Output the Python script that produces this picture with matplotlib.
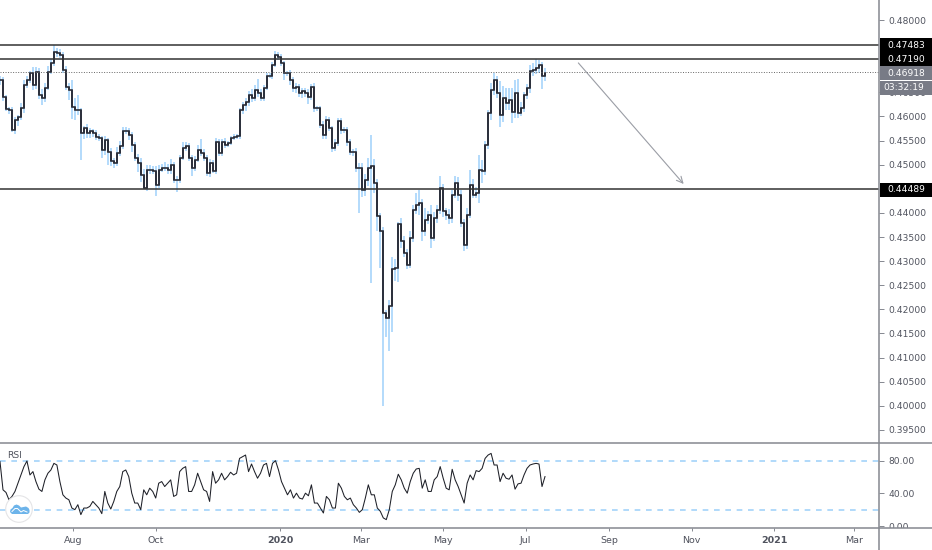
import datetime as dt
import numpy as np
import matplotlib
matplotlib.use("Agg")
import matplotlib.pyplot as plt
import matplotlib.dates as mdates
from matplotlib.patches import Circle, Polygon, Rectangle
from matplotlib.lines import Line2D
from matplotlib.transforms import Bbox

plt.rcParams['font.family'] = ['DejaVu Sans']

closes = [
 .4676,.4641,.4616,.4614,.4572,.4593,.4598,.4617,.4665,.4676,
 .4690,.4665,.4693,.4645,.4638,.4659,.4693,.4710,.4734,.4731,
 .4728,.4696,.4662,.4655,.4619,.4614,.4614,.4565,.4576,.4565,
 .4569,.4565,.4558,.4555,.4531,.4551,.4527,.4507,.4503,.4524,
 .4538,.4569,.4569,.4562,.4541,.4514,.4503,.4479,.4452,.4489,
 .4489,.4486,.4458,.4489,.4493,.4493,.4489,.4500,.4469,.4469,
 .4514,.4534,.4538,.4514,.4493,.4510,.4531,.4524,.4514,.4483,
 .4503,.4486,.4548,.4524,.4548,.4541,.4545,.4555,.4558,.4560,
 .4614,.4624,.4631,.4645,.4638,.4655,.4648,.4638,.4659,.4683,
 .4683,.4707,.4728,.4724,.4710,.4690,.4690,.4676,.4659,.4662,
 .4648,.4652,.4648,.4641,.4662,.4617,.4617,.4583,.4562,.4593,
 .4576,.4534,.4545,.4590,.4572,.4572,.4548,.4527,.4527,.4493,
 .4493,.4448,.4469,.4493,.4497,.4462,.4393,.4362,.4193,.4182,
 .4207,.4284,.4286,.4376,.4341,.4317,.4293,.4348,.4407,.4417,
 .4420,.4362,.4386,.4396,.4348,.4389,.4407,.4451,.4403,.4396,
 .4389,.4438,.4462,.4438,.4379,.4334,.4396,.4458,.4438,.4441,
 .4490,.4486,.4541,.4607,.4655,.4676,.4648,.4603,.4638,.4627,
 .4634,.4610,.4648,.4607,.4617,.4645,.4659,.4694,.4697,.4700,
 .4707,.4683,.4691]
# upper / lower wick lengths, in units of 0.0001
wick_up = [
 8,5,3,3,5,6,6,10,10,8,
 5,12,10,8,12,10,12,10,14,8,
 8,5,8,8,20,20,30,3,5,8,
 8,6,6,5,5,8,5,8,6,12,
 12,10,10,8,5,6,8,10,12,10,
 10,8,12,10,8,12,8,12,6,8,
 6,14,10,6,6,8,10,22,8,6,
 8,6,8,6,6,8,5,5,5,3,
 3,6,8,8,12,10,22,8,6,8,
 8,6,8,6,5,6,5,6,6,8,
 6,6,6,8,6,8,5,5,8,8,
 5,5,8,6,6,6,6,6,6,8,
 10,10,12,20,65,15,8,6,8,5,
 12,25,18,6,14,12,8,15,10,25,
 28,8,25,8,20,12,10,25,8,8,
 12,10,15,12,10,8,15,30,12,12,
 30,20,8,6,15,14,8,25,25,20,
 25,25,28,30,12,6,8,12,14,19,
 10,6,9]
wick_dn = [
 10,8,5,8,4,8,12,6,10,6,
 6,10,8,8,14,8,5,6,6,8,
 6,6,8,20,25,22,12,55,12,10,
 10,8,6,6,18,10,28,10,10,6,
 5,5,6,10,14,6,18,15,3,6,
 8,6,22,6,5,6,8,8,6,25,
 6,5,5,6,16,6,5,6,6,6,
 8,4,6,6,6,6,5,4,4,4,
 6,8,12,10,8,6,8,6,6,4,
 4,5,5,6,6,14,6,10,8,10,
 8,10,8,16,6,8,6,6,8,8,
 6,8,6,6,8,6,10,6,10,8,
 93,15,12,14,238,20,30,76,193,40,
 69,53,25,30,14,8,10,8,8,10,
 22,20,10,8,20,6,10,10,12,10,
 12,10,8,14,8,12,8,6,8,8,
 20,25,8,8,14,10,10,24,15,14,
 14,23,14,10,7,8,8,10,10,10,
 10,27,10]
rsi = [
 78.8,44.3,41.1,32.1,36.2,42.3,52.4,62.5,72.7,79.6,
 62.5,66.6,54.4,45.1,42.3,56.5,64.6,68.6,76.7,74.7,
 54.4,38.2,34.2,32.1,22,20,26.1,13.9,22,22,
 24,30.1,26.1,22,15.1,42.3,28.1,20.8,30.1,42.3,
 48.3,66.6,68.6,60.5,40.2,28.1,28.1,20,44.3,38.2,
 46.3,42.3,34.2,52.4,54.4,48.3,52.4,56.5,36.2,38.2,
 66.6,70.6,72.7,42.3,42.3,50.4,64.6,54.4,44.3,42.3,
 30.1,66.6,52.4,56.5,64.6,56.5,60.5,65.8,62.5,64.6,
 82.8,84.8,86.9,66.6,75.9,66.6,58.5,64.6,74.7,76.7,
 60.5,76.7,80,68.6,54.4,46.3,38.2,44.3,34.2,40.2,
 34.2,
 33,40.2,37,50.4,28.1,28.1,22,15.9,36.2,32.1,
 22,22,52.4,46.3,36.2,32.1,34.2,26.1,22,16.7,
 20,34.2,50.4,38.2,38.2,22,18,9.9,7.8,20,
 42.3,50.4,63.4,56.5,46.3,40.2,54.4,64.6,69.8,70.6,
 46.3,56.5,42.3,42.3,56.5,60.5,72.7,58.5,46.3,44.3,
 69.4,56.5,48.3,38.2,28.1,52.4,62.5,56.5,67.8,66.6,
 70.6,82.8,86.9,88.9,74.7,74.7,54.4,64.6,58.5,57.3,
 62.5,45.1,51.6,52.4,62.5,70.6,74.7,75.9,76.7,75.9,
 48.3,60.5]

levels = [0.47483, 0.47190, 0.44489]
last_price = 0.46918
countdown = "03:32:19"
price_ticks = [0.395,0.40,0.405,0.41,0.415,0.42,0.425,0.43,0.435,0.44,0.445,
               0.45,0.455,0.46,0.465,0.48]
rsi_ticks = [80, 40, 0]
rsi_bands = [80, 20]
date_ticks = [dt.date(2019,8,1),dt.date(2019,10,1),dt.date(2020,1,1),dt.date(2020,3,1),
              dt.date(2020,5,1),dt.date(2020,7,1),dt.date(2020,9,1),dt.date(2020,11,1),
              dt.date(2021,1,1),dt.date(2021,3,1)]
date_labels = ["Aug","Oct","2020","Mar","May","Jul","Sep","Nov","2021","Mar"]
arrow_start = (dt.date(2020,8,9), 0.4711)
arrow_end = (dt.date(2020,10,26), 0.4460)

W, H = 932, 550
AX_R, SEP, BOT = 879, 443, 528
TXT = '#50535e'; LINE = '#858890'; GREY = '#787b86'; BLUE = '#a3d3fa'; DARK = '#2a2d38'

fig = plt.figure(figsize=(W/100, H/100), dpi=100, facecolor='white')
ax = fig.add_axes([0, 1-SEP/H, AX_R/W, SEP/H])
ax2 = fig.add_axes([0, 1-BOT/H, AX_R/W, (BOT-SEP)/H], sharex=ax)

jan1 = mdates.date2num(dt.date(2020,1,1))
PX_DAY = 1.35
ax.set_xlim(jan1-280/PX_DAY, jan1+(AX_R-280)/PX_DAY)
x = jan1-280/PX_DAY + np.arange(len(closes))*3*(545/546)/PX_DAY

c = np.array(closes)
o = np.r_[c[0], c[:-1]]
hi = np.maximum(o, c) + np.array(wick_up)*1e-4
lo = np.minimum(o, c) - np.array(wick_dn)*1e-4

ax.set_ylim(0.48-(SEP-20)/4823, 0.48+20/4823)
ax.vlines(x, lo, hi, color=BLUE, lw=1.15, zorder=2)
ax.step(x, c, where='post', color=DARK, lw=1.2, zorder=3, solid_joinstyle='miter')
ax.vlines(x, o, c, color=DARK, lw=1.2, zorder=3)

for lv in levels:
    ax.axhline(lv, color='#333333', lw=1.1, zorder=4)
ax.axhline(last_price, color='#666666', lw=0.7, ls=(0,(1,1.6)), zorder=4)

a0 = (mdates.date2num(arrow_start[0]), arrow_start[1])
a1 = (mdates.date2num(arrow_end[0]), arrow_end[1])
ax.annotate("", xy=a1, xytext=a0, zorder=4,
            arrowprops=dict(arrowstyle='->,head_length=0.45,head_width=0.22', color='#9a9da5',
                            lw=0.8, shrinkA=0, shrinkB=0))

ax.set_yticks(price_ticks)
ax.set_yticklabels([f"{t:.5f}" for t in price_ticks])
ax.yaxis.tick_right()
ax.tick_params(axis='y', length=3.5, width=0.7, color=LINE, labelcolor=TXT, labelsize=6.6, pad=3)
ax.tick_params(axis='x', length=0, labelbottom=False)
for s in ax.spines.values():
    s.set_visible(False)

# RSI panel
ax2.set_ylim((526-BOT)/0.8167, (526-SEP)/0.8167)
ax2.plot(x, rsi, color='#1e2028', lw=0.75, zorder=3)
for b in rsi_bands:
    ax2.axhline(b, color=BLUE, lw=1.2, ls=(0,(3.4,3.4)), zorder=2)
ax2.set_yticks(rsi_ticks)
ax2.set_yticklabels([f"{t:.2f}" for t in rsi_ticks])
ax2.yaxis.tick_right()
ax2.tick_params(axis='y', length=3.5, width=0.7, color=LINE, labelcolor=TXT, labelsize=6.6, pad=3)
ax2.set_xticks([mdates.date2num(d) for d in date_ticks])
ax2.set_xticklabels(date_labels)
ax2.tick_params(axis='x', length=2.5, width=0.7, color=LINE, labelcolor=TXT, labelsize=6.8, pad=3)
for lab in ax2.get_xticklabels():
    if lab.get_text() in ("2020", "2021"):
        lab.set_fontweight('bold')
for s in ax2.spines.values():
    s.set_visible(False)
fig.text(7/W, 1-456/H, "RSI", color=TXT, fontsize=6.6, va='center', ha='left')

# clip the 0.00 label at the pane's bottom edge
for lab in ax2.get_yticklabels():
    lab.set_clip_box(Bbox([[AX_R, H-BOT], [W, H-SEP]]))
    lab.set_clip_on(True)

# frame lines
def fline(x0, y0, x1, y1, lw=1.1, color=LINE, z=6):
    fig.add_artist(Line2D([x0/W, x1/W], [1-y0/H, 1-y1/H], color=color, lw=lw, zorder=z))
fline(0, SEP, W, SEP)
fline(0, BOT, W, BOT)
fline(AX_R, 0, AX_R, H)

# price tags
def tag(y0, y1, color):
    fig.add_artist(Rectangle((880/W, 1-y1/H), (W-880)/W, (y1-y0)/H, transform=fig.transFigure,
                             facecolor=color, edgecolor='none', zorder=7))

def tag_text(xp, y, text):
    fig.text(xp/W, 1-y/H, text, color='white', fontsize=6.6, va='center', ha='left', zorder=8)

tag(38, 65.5, '#000000')
tag_text(887, 45.5, f"{levels[0]:.5f}")
tag_text(887, 59, f"{levels[1]:.5f}")
tag(66, 79.5, GREY)
tag_text(887, 73, f"{last_price:.5f}")
tag(81, 94.5, GREY)
tag_text(883, 87.5, countdown)
tag(183, 197, '#000000')
tag_text(887, 190, f"{levels[2]:.5f}")

# logo badge
logo = fig.add_axes([5/W, 1-523/H, 28/W, 28/H])
logo.set_xlim(0, 28); logo.set_ylim(28, 0); logo.axis('off'); logo.patch.set_alpha(0)
logo.add_patch(Circle((14, 14), 13.3, facecolor='white', edgecolor='#e4e4e6', lw=0.8))
logo.add_patch(Polygon([(5,17),(5.5,14.5),(7.5,13),(9,10.5),(11.5,9.5),(14,10.5),(16,12.5),(18.5,12),
                        (21,11.5),(23.5,13),(24.5,15),(24.5,17.5),(23,19),(7,19)],
                       closed=True, facecolor='#6db4ea', edgecolor='none'))
logo.plot([7,10,12.5,16,18.5,22],[16.5,13.5,13.5,17,15.5,17], color='white', lw=0.7)

fig.savefig("out.png", dpi=100, facecolor='white')
